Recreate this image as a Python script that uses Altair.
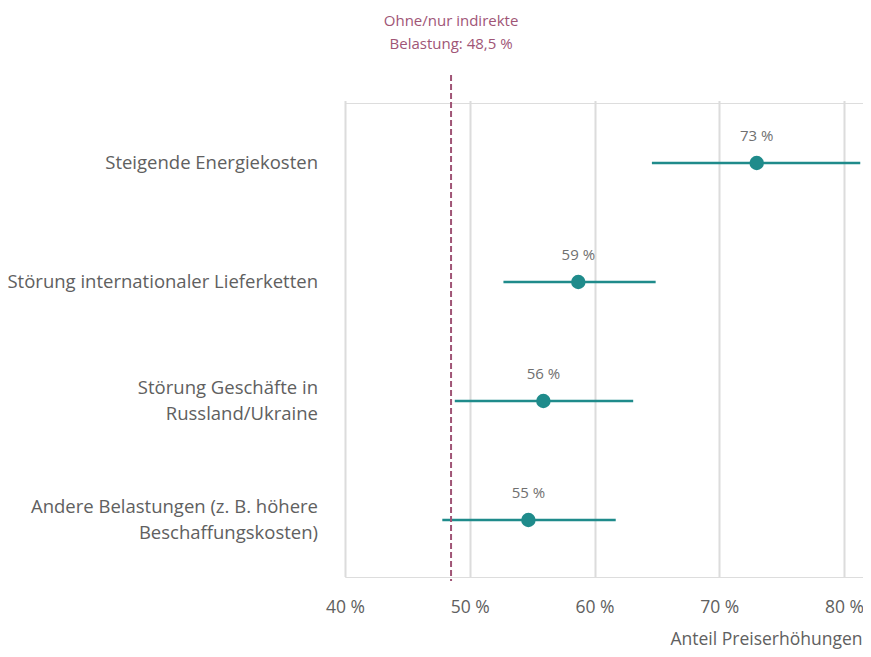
import altair as alt
import pandas as pd

categories = [
    "Steigende Energiekosten",
    "Störung internationaler Lieferketten",
    "Störung Geschäfte in\nRussland/Ukraine",
    "Andere Belastungen (z. B. höhere\nBeschaffungskosten)",
]
values = [73.0, 58.7, 55.9, 54.7]
lower = [64.6, 52.7, 48.8, 47.8]
upper = [81.3, 64.9, 63.1, 61.7]
reference_value = 48.5
reference_label = "Ohne/nur indirekte\nBelastung: 48,5 %"
x_ticks = [40, 50, 60, 70, 80]

df = pd.DataFrame({
    "cat": categories,
    "value": values,
    "lower": lower,
    "upper": upper,
    "label": [f"{round(v)} %" for v in values],
})
ref_df = pd.DataFrame({"x": [reference_value], "label": [reference_label]})

FONT = "Open Sans"
TEAL = "#1f8b8b"
MAUVE = "#a05576"
GREY = "#606060"
LINE_H = 26
STEP = 119

xscale = alt.Scale(domain=[40, 81.52], nice=False, zero=False)
yscale = alt.Scale(domain=categories, paddingInner=0, paddingOuter=0,
                   range=[0.5, 0.5 + 4 * STEP])

base = alt.Chart(df)

bars = base.mark_rule(color=TEAL, strokeWidth=2.5).encode(
    x=alt.X(
        "lower:Q", scale=xscale,
        axis=alt.Axis(
            values=x_ticks, labelExpr="datum.value + ' %'",
            title="Anteil Preiserhöhungen", domain=False, ticks=False,
            grid=True, gridColor="#dcdcdc", gridWidth=2,
            labelFont=FONT, labelFontSize=17.5, labelColor=GREY,
            labelPadding=21, labelFlush=False,
            titleFont=FONT, titleFontSize=17.5, titleFontWeight="normal",
            titleColor=GREY, titleAnchor="end", titleAlign="right",
            titleX=517, titleY=67, titleBaseline="alphabetic",
        ),
    ),
    x2="upper:Q",
    y=alt.Y("cat:N", scale=yscale, axis=None),
)

points = base.mark_circle(color=TEAL, size=210, opacity=1).encode(
    x=alt.X("value:Q", scale=xscale),
    y=alt.Y("cat:N", scale=yscale),
)

labels = base.mark_text(
    font=FONT, fontSize=15, color="#707070", dy=-27
).encode(
    x=alt.X("value:Q", scale=xscale),
    y=alt.Y("cat:N", scale=yscale),
    text="label:N",
)

ylabels = base.transform_calculate(
    off=f"{STEP / 2} - (length(split(datum.cat, '\\n')) - 1) * {LINE_H} / 2"
).mark_text(
    font=FONT, fontSize=18.5, color=GREY, align="right", baseline="middle",
    lineBreak="\n", lineHeight=LINE_H,
).encode(
    x=alt.value(-27),
    y=alt.Y("cat:N", scale=yscale),
    yOffset=alt.YOffset("off:Q", scale=None),
    text="cat:N",
)

ref_rule = alt.Chart(ref_df).mark_rule(
    color=MAUVE, strokeWidth=2, strokeDash=[6, 3]
).encode(
    x=alt.X("x:Q", scale=xscale),
    y=alt.value(-28),
    y2=alt.value(478),
)

ref_text = alt.Chart(ref_df).mark_text(
    font=FONT, fontSize=15, color=MAUVE, lineBreak="\n",
    lineHeight=23, baseline="middle", align="center",
).encode(
    x=alt.X("x:Q", scale=xscale),
    y=alt.value(-82),
    text="label:N",
)

chart = alt.layer(bars, points, labels, ylabels, ref_rule, ref_text).properties(
    width=518,
    height=474,
    autosize=alt.AutoSizeParams(type="none"),
    padding={"left": 337, "top": 95, "right": 0, "bottom": 72},
).configure_view(stroke="transparent", strokeWidth=0).configure(background="white")

chart.save("out.html", embed_options={"renderer": "svg", "actions": False})
